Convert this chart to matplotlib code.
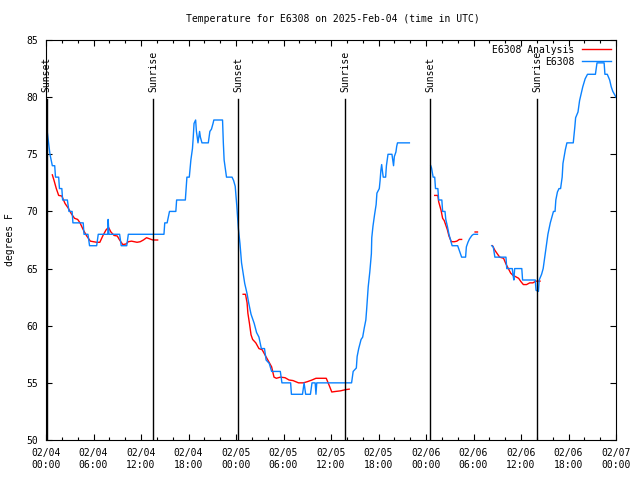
import numpy as np
import matplotlib
matplotlib.use("Agg")
import matplotlib.pyplot as plt
import matplotlib.dates as mdates
from datetime import datetime, timedelta

# hours after 2025-02-04 00:00 UTC; None = gap in the record
obs_hours = [0.15, 0.5, 0.8, 1.1, 1.2, 1.6, 1.7, 2.0, 2.1, 2.7, 2.9, 3.3, 3.4, 4.7, 4.8, 5.3, 5.5, 6.4,
             6.6, 7.8, 7.85, 7.95, 9.3, 9.5, 10.2, 10.4, 14.9, 15.0, 15.3, 15.5, 15.6, 16.4, 16.5, 17.6,
             17.7, 17.8, 18.1, 18.3, 18.5, 18.6, 18.7, 18.9, 19.0, 19.2, 19.4, 19.5, 19.7, 20.5, 20.7,
             20.9, 21.1, 21.2, 22.3, 22.4, 22.5, 22.7, 22.8, 23.5, 23.7, 23.9, 24.1, 24.3, 24.5, 24.7,
             24.9, 25.1, 25.4, 25.6, 25.9, 26.3, 26.6, 26.9, 27.2, 27.6, 27.8, 28.2, 28.5, 29.6, 29.8,
             30.9, 31.0, 32.4, 32.6, 32.8, 33.4, 33.6, 34.0, 34.1, 34.2, 38.6, 38.8, 39.2, 39.3, 39.5,
             39.8, 40.0, 40.2, 40.4, 40.5, 40.7, 40.9, 41.1, 41.15, 41.3, 41.5, 41.7, 41.8, 42.1, 42.2,
             42.3, 42.4, 42.5, 42.6, 42.9, 43.0, 43.2, 43.7, 43.8, 43.9, 44.0, 44.2, 44.3, 44.4, 45.9,
             None,
             48.6, 48.7, 48.9, 49.1, 49.2, 49.5, 49.6, 50.0, 50.1, 50.4, 50.5, 50.7, 50.9, 51.1, 51.3,
             52.0, 52.1, 52.3, 52.5, 53.0, 53.1, 53.3, 53.5, 53.8, 54.0, 54.5,
             None,
             56.3, 56.5, 56.7, 58.1, 58.2, 58.9, 59.0, 59.1, 59.2, 60.1, 60.2, 61.8, 61.9, 62.2, 62.3,
             62.6, 62.8, 63.0, 63.2, 63.4, 63.7, 63.9, 64.1, 64.3, 64.4, 64.6, 64.8, 65.0, 65.2, 65.3,
             65.6, 65.8, 66.6, 66.8, 66.9, 67.2, 67.4, 67.6, 67.8, 68.1, 68.4, 69.4, 69.6, 70.5, 70.6,
             70.9, 71.2, 71.4, 71.6, 72.0]
obs_temps = [77, 75, 74, 74, 73, 73, 72, 72, 71, 71, 70, 70, 69, 69, 68, 68, 67, 67,
             68, 68, 69.3, 68, 68, 67, 67, 68, 68, 69, 69, 69.7, 70, 70, 71, 71,
             72, 73, 73, 74.5, 75.5, 76.5, 77.7, 78, 77, 76, 77, 76.5, 76, 76, 77,
             77.2, 77.7, 78, 78, 76, 74.5, 73.5, 73, 73, 72.7, 72.2, 70.5, 68.5, 67.2, 65.5,
             64.6, 63.7, 62.8, 62, 61, 60.2, 59.4, 59, 58, 58, 57, 56.7, 56, 56, 55,
             55, 54, 54, 55, 54, 54, 55, 55, 54, 55, 55, 56, 56.3, 57.3, 58,
             58.8, 59, 59.8, 60.5, 61.4, 63.4, 64.7, 66.3, 67.7, 68.7, 69.7, 70.6, 71.6, 72, 72.7,
             73.6, 74.1, 73.5, 73, 73, 74, 75, 75, 74.5, 74, 74.8, 75.2, 75.7, 76, 76,
             None,
             74, 73.8, 73, 73, 72, 72, 71, 71, 70, 70, 69.3, 68.7, 68, 67.5, 67,
             67, 66.8, 66.4, 66, 66, 66.9, 67.3, 67.6, 67.9, 68, 68,
             None,
             67, 66.9, 66, 66, 65, 65, 64.4, 64, 65, 65, 64, 64, 63.1, 63, 64,
             64.5, 65, 66, 67, 68, 69, 69.5, 70, 70, 71, 71.7, 72, 72, 73, 74.2,
             75.4, 76, 76, 77.4, 78.2, 78.7, 79.7, 80.3, 80.9, 81.6, 82, 82, 83, 83, 82,
             82, 81.5, 80.9, 80.5, 80]

ana_hours = [0.8, 1.0, 1.3, 1.6, 2.0, 2.4, 2.8, 3.2, 3.6, 4.0, 4.3, 4.7, 5.1, 5.6, 6.0, 6.4, 6.8,
             7.2, 7.6, 7.9, 8.2, 8.6, 9.0, 9.3, 9.7, 10.1, 10.4, 10.8, 11.5, 11.9, 12.3, 12.7, 13.1,
             13.5, 14.1,
             None,
             24.9, 25.2, 25.4, 25.5, 25.7, 25.9, 26.1, 26.5, 26.9, 27.3, 27.7, 28.1, 28.5, 28.8, 29.1,
             29.6, 30.2, 30.7, 31.2, 31.9, 32.5, 33.0, 33.6, 34.1, 34.7, 35.4, 35.7, 36.1, 36.6, 37.2,
             37.8, 38.3,
             None,
             49.1, 49.5, 49.6, 49.9, 50.1, 50.3, 50.5, 50.7, 50.9, 51.2, 51.6, 51.9, 52.2, 52.5,
             None,
             54.2, 54.5,
             None,
             56.4, 56.7, 57.0, 57.3, 57.8, 58.1, 58.4, 58.7, 59.0, 59.3, 59.7, 60.0, 60.3, 60.7, 61.1,
             61.5, 61.9, 62.4]
ana_temps = [73.2, 72.75, 72, 71.4, 71.35, 70.7, 70.3, 69.8, 69.4, 69.3, 69, 68.4, 67.9, 67.4, 67.35,
             67.3, 67.3, 67.9, 68.4, 68.6, 68.2, 67.9, 67.85, 67.5, 67.1, 67.15, 67.35, 67.4, 67.3,
             67.35, 67.5, 67.7, 67.6, 67.5, 67.5,
             None,
             62.75, 62.75, 62, 61.1, 60.2, 59.2, 58.8, 58.5, 58, 57.9, 57.4, 56.9, 56.4, 55.5, 55.4,
             55.5, 55.45, 55.25, 55.2, 55, 55, 55.1, 55.25, 55.4, 55.4, 55.4, 54.9, 54.2, 54.25, 54.3,
             54.4, 54.45,
             None,
             71.4, 71.4, 70.85, 70.1, 69.4, 69.2, 68.8, 68.4, 67.85, 67.35, 67.35, 67.4, 67.55, 67.55,
             None,
             68.2, 68.2,
             None,
             67, 66.6, 66.3, 66, 65.9, 65.4, 65, 64.6, 64.4, 64.3, 64.15, 63.85, 63.6, 63.6, 63.75,
             63.75, 63.9, 63.9]

sun_labels = ["Sunset", "Sunrise", "Sunset", "Sunrise", "Sunset", "Sunrise"]
sun_hours = [0.1, 13.52, 24.25, 37.77, 48.5, 62.02]

start = datetime(2025, 2, 4)


def to_times(hours):
    return [start + timedelta(hours=h) if h is not None else None for h in hours]


def as_series(hours, temps):
    t = [mdates.date2num(x) if x is not None else np.nan for x in to_times(hours)]
    v = np.array([np.nan if y is None else y for y in temps], dtype=float)
    return np.array(t), v


plt.rcParams['font.family'] = ['DejaVu Sans Mono']
plt.rcParams['font.size'] = 7

fig = plt.figure(figsize=(6.4, 4.8), dpi=100)
ax = fig.add_axes([46 / 640, 40 / 480, 570 / 640, 400 / 480])

ana_x, ana_y = as_series(ana_hours, ana_temps)
obs_x, obs_y = as_series(obs_hours, obs_temps)
ax.plot(ana_x, ana_y, color='#ff0000', linewidth=1.0, label='E6308 Analysis')
ax.plot(obs_x, obs_y, color='#0a82ff', linewidth=1.0, label='E6308')

# sunrise / sunset markers
for name, h in zip(sun_labels, sun_hours):
    t = mdates.date2num(start + timedelta(hours=h))
    ax.axvline(t, ymin=0, ymax=0.8525, color='black', linewidth=1.0)
    ax.text(t, 0.87, name, rotation=90, ha='center', va='bottom',
            transform=ax.get_xaxis_transform())

ax.set_xlim(mdates.date2num(start), mdates.date2num(start + timedelta(hours=72)))
ax.set_ylim(50, 85)
ax.set_yticks(range(50, 86, 5))
ax.xaxis.set_major_locator(mdates.HourLocator(byhour=range(0, 24, 6)))
ax.xaxis.set_minor_locator(mdates.HourLocator(byhour=range(0, 24, 2)))
ax.xaxis.set_major_formatter(mdates.DateFormatter('%m/%d\n%H:%M'))

ax.tick_params(which='both', direction='in', top=True, right=True, width=0.8)
ax.tick_params(which='major', length=4)
ax.tick_params(which='minor', length=2.5)
ax.tick_params(axis='y', pad=6)
ax.tick_params(axis='x', pad=6)
for s in ax.spines.values():
    s.set_linewidth(0.8)

fig.text(333 / 640, 1 - 19 / 480, 'Temperature for E6308 on 2025-Feb-04 (time in UTC)',
         ha='center', va='center')
fig.text(10 / 640, 1 - 240 / 480, 'degrees F', rotation=90, ha='center', va='center')

ax.legend(loc='upper right', frameon=False, markerfirst=False, handlelength=3.0,
          handletextpad=0.8, labelspacing=0.2, borderaxespad=0.3, borderpad=0.2)

fig.savefig('out.png', dpi=100)
